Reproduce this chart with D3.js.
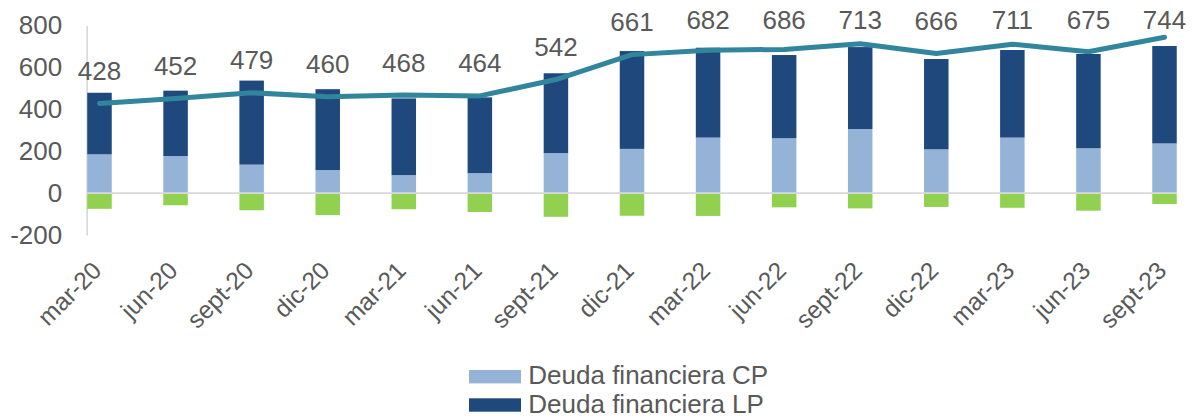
<!DOCTYPE html>
<html>
<head>
<meta charset="utf-8">
<script src="https://cdn.jsdelivr.net/npm/d3@7"></script>
<style>
  html, body { margin: 0; padding: 0; background: #fff; }
  svg { display: block; }
  text { font-family: "Liberation Sans", Arial, sans-serif; fill: #595959; }
</style>
</head>
<body>
<svg id="chart" width="1196" height="417"></svg>
<script>
const categories = ["mar-20","jun-20","sept-20","dic-20","mar-21","jun-21","sept-21","dic-21","mar-22","jun-22","sept-22","dic-22","mar-23","jun-23","sept-23"];
const deudaCP = [185, 177, 136, 110, 86, 95, 191, 211, 265, 262, 306, 209, 265, 214, 237];
const deudaLP = [294, 312, 401, 386, 366, 362, 381, 467, 429, 397, 391, 431, 418, 450, 465];
const otros   = [-75, -58, -82, -105, -77, -90, -113, -108, -109, -68, -73, -66, -70, -84, -52];
const totalLine = [428, 452, 479, 460, 468, 464, 542, 661, 682, 686, 713, 666, 711, 675, 744];
const yTicks = [-200, 0, 200, 400, 600, 800];
const legendLabels = ["Deuda financiera CP", "Deuda financiera LP"];

const colors = { cp: "#95B3D7", lp: "#1F497D", neg: "#92D050", line: "#31859C", axis: "#D9D9D9" };

const svg = d3.select("#chart");
const y = d3.scaleLinear().domain([-200, 800]).range([235, 25.5]);
const x = d3.scalePoint().domain(categories).range([99.5, 1164.5]);
const barW = 24.5;
const axisX = 86.7;
const plotRight = 1177;

const rows = categories.map((c, i) => ({ c, cp: deudaCP[i], lp: deudaLP[i], neg: otros[i], tot: totalLine[i] }));

// y axis
const yAxis = svg.append("g")
  .attr("transform", `translate(${axisX},0)`)
  .call(d3.axisLeft(y).tickValues(yTicks).tickSize(0).tickSizeOuter(0).tickPadding(24.5).tickFormat(d => String(d)));
yAxis.select(".domain").attr("stroke", colors.axis).attr("stroke-width", 1.7);
yAxis.selectAll("text").style("font-size", "26px").attr("fill", "#595959");

// bars
const g = svg.append("g");
g.selectAll("rect.cp").data(rows).join("rect").attr("class", "cp")
  .attr("x", d => x(d.c) - barW / 2).attr("width", barW)
  .attr("y", d => y(d.cp)).attr("height", d => y(0) - y(d.cp))
  .attr("fill", colors.cp);
g.selectAll("rect.lp").data(rows).join("rect").attr("class", "lp")
  .attr("x", d => x(d.c) - barW / 2).attr("width", barW)
  .attr("y", d => y(d.cp + d.lp)).attr("height", d => y(d.cp) - y(d.cp + d.lp))
  .attr("fill", colors.lp);
g.selectAll("rect.neg").data(rows).join("rect").attr("class", "neg")
  .attr("x", d => x(d.c) - barW / 2).attr("width", barW)
  .attr("y", y(0)).attr("height", d => y(d.neg) - y(0))
  .attr("fill", colors.neg);

// zero line
svg.append("line")
  .attr("x1", axisX).attr("x2", plotRight)
  .attr("y1", y(0)).attr("y2", y(0))
  .attr("stroke", colors.axis).attr("stroke-width", 1.7);

// line
const line = d3.line().x(d => x(d.c)).y(d => y(d.tot)).curve(d3.curveLinear);
svg.append("path").datum(rows)
  .attr("d", line)
  .attr("fill", "none")
  .attr("stroke", colors.line)
  .attr("stroke-width", 5)
  .attr("stroke-linejoin", "round")
  .attr("stroke-linecap", "round");

// data labels
svg.selectAll("text.lbl").data(rows).join("text").attr("class", "lbl")
  .attr("x", d => x(d.c))
  .attr("y", d => Math.max(y(d.tot) - 23.5, 29))
  .attr("text-anchor", "middle")
  .style("font-size", "26px")
  .text(d => d.tot);

// x axis
const xAxis = svg.append("g")
  .attr("transform", "translate(0,250)")
  .call(d3.axisBottom(x).tickSize(0).tickSizeOuter(0));
xAxis.select(".domain").remove();
xAxis.selectAll("text")
  .attr("y", 0).attr("dy", 0)
  .attr("text-anchor", "end")
  .attr("transform", "translate(3,22) rotate(-45)")
  .style("font-size", "24.5px")
  .attr("fill", "#595959");

// legend
const legend = svg.append("g");
const legColors = [colors.cp, colors.lp];
legendLabels.forEach((lab, i) => {
  const cy = 376.7 + i * 28.3;
  legend.append("rect").attr("x", 469).attr("y", cy - 6.7).attr("width", 52).attr("height", 13.4).attr("fill", legColors[i]);
  legend.append("text").attr("x", 528.3).attr("y", cy + 7.5).style("font-size", "26px").text(lab);
});
</script>
</body>
</html>
